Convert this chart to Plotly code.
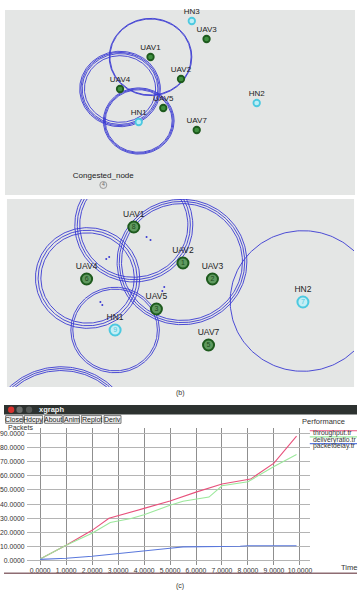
import numpy as np
import plotly.graph_objects as go

W, H = 359, 597
FONT = "Liberation Sans, Arial, sans-serif"

# ---------------- data: panel (a) ----------------
a_names = ["HN3", "UAV3", "UAV1", "UAV2", "UAV4", "UAV5", "HN1", "UAV7", "HN2", "Congested_node"]
a_x = [191, 206, 149, 180, 118, 162, 137, 196, 257, 101]
a_y = [21, 39, 57, 79, 89, 108, 122, 130, 103, 185]
a_kind = ["hn", "uav", "uav", "uav", "uav", "uav", "hn", "uav", "hn", "cong"]
ring_a_x = [149, 118, 137]
ring_a_y = [57, 89, 121]
ring_a_r = [[42, 41.3], [41, 39.8, 38.5, 36.2], [36, 35, 34]]

# ---------------- data: panel (b) ----------------
b_names = ["UAV1", "UAV2", "UAV3", "UAV4", "UAV5", "HN1", "UAV7", "HN2"]
b_x = [132, 182, 212, 84, 155, 113, 208, 304]
b_y = [227, 263, 279, 279, 309, 330, 345, 302]
b_ids = ["8", "1", "2", "6", "3", "9", "5", "7"]
b_kind = ["uav", "uav", "uav", "uav", "uav", "hn", "uav", "hn"]
ring_b_x = [132, 85, 181, 113, 304, 58]
ring_b_y = [225, 278, 262, 330, 301, 438]
ring_b_r = [[60, 57.5, 55], [53, 50.3, 47.5], [66, 63.8, 61.5], [45, 43], [74], [75, 73, 71]]
pkt_x = [145, 149, 104, 107, 161, 163, 98, 100]
pkt_y = [237, 240, 259, 257, 291, 287, 302, 305]

# ---------------- data: panel (c) xgraph ----------------
t_tp = [0, 1, 2, 2.65, 4, 5, 6, 7, 8.1, 9, 9.87]
throughput = [1.2, 11, 21.5, 30, 37, 42.2, 48.5, 54.2, 57.7, 69, 88]
t_dr = [0, 1, 2, 2.7, 3.5, 4, 5, 5.5, 6.5, 7, 8, 9, 9.87]
deliveryratio = [1.2, 11, 19.5, 27, 29.8, 32.5, 39.2, 42, 45, 53, 55.8, 66.6, 75]
t_pd = [0, 1, 2, 3, 4, 5, 5.5, 6, 7, 7.7, 8, 9, 9.87]
packetdelay = [1.0, 1.8, 3.2, 5.0, 6.5, 8.8, 9.8, 9.8, 9.8, 10.2, 10.6, 10.6, 10.6]
series_names = ["throughput.tr", "deliveryratio.tr", "packetdelay.tr"]
series_colors = ["#e8527c", "#9be89b", "#5a78dc"]
x_ticks = list(range(0, 11))
x_ticktext = ["0.0000", "1.0000", "2.0000", "3.0000", "4.0000", "5.0000",
              "6.0000", "7.0000", "8.0000", "9.0000", "10.0000"]
y_ticks = list(range(0, 100, 10))
y_ticktext = ["%.4f" % v for v in y_ticks]
buttons = ["Close", "Hdcpy", "About", "Anim", "Replot", "Deriv"]
button_x0 = [1.7, 20.7, 41.3, 60.7, 78.7, 101.7]
button_x1 = [19.3, 39.3, 59.3, 76.7, 99.3, 119.0]


def px(x):
    return x / W


def py(y):
    return 1 - y / H


fig = go.Figure()

# ---------- plot (c) ----------
for t, v, name, col in zip([t_tp, t_dr, t_pd], [throughput, deliveryratio, packetdelay],
                           series_names, series_colors):
    fig.add_trace(go.Scatter(x=t, y=v, mode="lines", name=name,
                             line=dict(color=col, width=1.1), xaxis="x", yaxis="y",
                             showlegend=False, hoverinfo="skip"))

BLUE = "#3a3ad2"


def ring_traces(cxs, cys, rs, ratio, xa, ya, width):
    for cx, cy, rl in zip(cxs, cys, rs):
        for r in rl:
            th = np.linspace(0, 2 * np.pi, 241)
            fig.add_trace(go.Scatter(x=cx + r * np.cos(th), y=cy + r * ratio * np.sin(th),
                                     mode="lines", line=dict(color=BLUE, width=width),
                                     xaxis=xa, yaxis=ya, showlegend=False, hoverinfo="skip"))


ring_traces(ring_a_x, ring_a_y, ring_a_r, 0.92, "x2", "y2", 0.9)
ring_traces(ring_b_x, ring_b_y, ring_b_r, 0.95, "x3", "y3", 0.9)

# packets
fig.add_trace(go.Scatter(x=pkt_x, y=pkt_y, mode="markers",
                         marker=dict(color=BLUE, size=2), xaxis="x3", yaxis="y3",
                         showlegend=False, hoverinfo="skip"))


def node_style(kind, big):
    if kind == "uav":
        return dict(color="#5f9a5f" if big else "#3f8f3f", line=dict(color="#1d5a1d", width=2 if big else 1.8))
    if kind == "hn":
        return dict(color="#c4eef5" if big else "#bdeef6", line=dict(color="#4cc9e0", width=2 if big else 1.8))
    return dict(color="#e2e2e2", line=dict(color="#9a9a9a", width=1))


# panel (a) nodes
for kind in ["uav", "hn", "cong"]:
    idx = [i for i, k in enumerate(a_kind) if k == kind]
    st = node_style(kind, False)
    fig.add_trace(go.Scatter(
        x=[a_x[i] for i in idx], y=[a_y[i] for i in idx], mode="markers+text",
        text=[a_names[i] for i in idx], textposition="top center",
        textfont=dict(family=FONT, size=8, color="#222"),
        marker=dict(size=6.5 if kind != "cong" else 7, color=st["color"], line=st["line"]),
        xaxis="x2", yaxis="y2", showlegend=False, hoverinfo="skip", cliponaxis=False))
fig.add_trace(go.Scatter(x=[a_x[-1]], y=[a_y[-1]], mode="text", text=["4"],
                         textfont=dict(family=FONT, size=5, color="#666"),
                         xaxis="x2", yaxis="y2", showlegend=False, hoverinfo="skip"))

# panel (b) nodes
for kind in ["uav", "hn"]:
    idx = [i for i, k in enumerate(b_kind) if k == kind]
    st = node_style(kind, True)
    fig.add_trace(go.Scatter(
        x=[b_x[i] for i in idx], y=[b_y[i] for i in idx], mode="markers+text",
        text=[b_names[i] for i in idx], textposition="top center",
        textfont=dict(family=FONT, size=8.5, color="#222"),
        marker=dict(size=11, color=st["color"], line=st["line"]),
        xaxis="x3", yaxis="y3", showlegend=False, hoverinfo="skip", cliponaxis=False))
    fig.add_trace(go.Scatter(
        x=[b_x[i] for i in idx], y=[b_y[i] for i in idx], mode="text",
        text=[b_ids[i] for i in idx],
        textfont=dict(family=FONT, size=7, color="#1d4a1d" if kind == "uav" else "#4cc9e0"),
        xaxis="x3", yaxis="y3", showlegend=False, hoverinfo="skip"))

shapes = []
annotations = []

# panel backgrounds
for xr, yr in [("x2 domain", "y2 domain"), ("x3 domain", "y3 domain")]:
    shapes.append(dict(type="rect", xref=xr, yref=yr, x0=0, x1=1, y0=0, y1=1,
                       fillcolor="#e4e6e5", line=dict(width=0), layer="below"))

# xgraph window chrome
shapes.append(dict(type="rect", xref="paper", yref="paper", x0=0, x1=1, y0=py(414.5), y1=py(405),
                   fillcolor="#2d3230", line=dict(width=0)))
for cxp, col in [(7.3, "#d8322e"), (15.8, "#6c6f6d"), (25.5, "#555957")]:
    shapes.append(dict(type="circle", xref="paper", yref="paper", x0=px(cxp - 3.2), x1=px(cxp + 3.2),
                       y0=py(413), y1=py(406.6), fillcolor=col, line=dict(width=0)))
annotations.append(dict(text="<b>xgraph</b>", x=px(48.5), y=py(409.8), xref="paper", yref="paper",
                        showarrow=False, font=dict(family=FONT, size=7.5, color="#f2f2f2"),
                        xanchor="center", yanchor="middle"))
for lbl, x0, x1 in zip(buttons, button_x0, button_x1):
    shapes.append(dict(type="rect", xref="paper", yref="paper", x0=px(x0), x1=px(x1),
                       y0=py(423.3), y1=py(415.6), fillcolor="#f4f4f4",
                       line=dict(color="#555", width=0.8)))
    annotations.append(dict(text=lbl, x=px((x0 + x1) / 2), y=py(419.6), xref="paper", yref="paper",
                            showarrow=False, font=dict(family=FONT, size=7, color="#222"),
                            xanchor="center", yanchor="middle"))

# legend (xgraph style)
leg_line_y = [430.7, 436.9, 443.6]
leg_text_y = [433.2, 439.5, 446.0]
for name, col, ly, ty in zip(series_names, series_colors, leg_line_y, leg_text_y):
    shapes.append(dict(type="line", xref="paper", yref="paper", x0=px(311), x1=px(359),
                       y0=py(ly), y1=py(ly), line=dict(color=col, width=1.1)))
    annotations.append(dict(text=name, x=px(312), y=py(ty), xref="paper", yref="paper",
                            showarrow=False, font=dict(family=FONT, size=6.8, color="#333"),
                            xanchor="left", yanchor="middle"))

annotations += [
    dict(text="Performance", x=px(325), y=py(421), xref="paper", yref="paper", showarrow=False,
         font=dict(family=FONT, size=7.5, color="#333"), xanchor="center", yanchor="middle"),
    dict(text="Packets", x=px(2), y=py(427), xref="paper", yref="paper", showarrow=False,
         font=dict(family=FONT, size=7, color="#333"), xanchor="left", yanchor="middle"),
    dict(text="Time", x=px(351), y=py(567), xref="paper", yref="paper", showarrow=False,
         font=dict(family=FONT, size=7.5, color="#333"), xanchor="center", yanchor="middle"),
    dict(text="(b)", x=px(179), y=py(393), xref="paper", yref="paper", showarrow=False,
         font=dict(family=FONT, size=7, color="#333"), xanchor="center", yanchor="middle"),
    dict(text="(c)", x=px(179), y=py(586), xref="paper", yref="paper", showarrow=False,
         font=dict(family=FONT, size=7, color="#333"), xanchor="center", yanchor="middle"),
]
shapes.append(dict(type="line", xref="paper", yref="paper", x0=0, x1=1, y0=py(573.3), y1=py(573.3),
                   line=dict(color="#8e6c72", width=1.5)))

fig.update_layout(
    width=W, height=H, margin=dict(l=0, r=0, t=0, b=0),
    paper_bgcolor="white", plot_bgcolor="white",
    shapes=shapes, annotations=annotations, showlegend=False,
    xaxis=dict(domain=[px(23), px(311)], range=[-0.52, 10.38], tickvals=x_ticks, ticktext=x_ticktext,
               showgrid=True, gridcolor="#8f8f8f", gridwidth=1, zeroline=False, showline=False,
               ticks="", ticklabelstandoff=0,
               tickfont=dict(family=FONT, size=6.8, color="#333"), anchor="y", fixedrange=True),
    yaxis=dict(domain=[py(565), py(428)], range=[-3, 93.8], tickvals=y_ticks, ticktext=y_ticktext,
               showgrid=True, gridcolor="#b4b4b4", gridwidth=1, zeroline=False, showline=False,
               ticks="", ticklabelstandoff=1,
               tickfont=dict(family=FONT, size=6.8, color="#333"), anchor="x", fixedrange=True),
    xaxis2=dict(domain=[px(1), px(357)], range=[1, 357], visible=False, anchor="y2"),
    yaxis2=dict(domain=[py(195), py(10)], range=[195, 10], visible=False, anchor="x2"),
    xaxis3=dict(domain=[px(3), px(356)], range=[3, 356], visible=False, anchor="y3"),
    yaxis3=dict(domain=[py(387), py(199)], range=[387, 199], visible=False, anchor="x3"),
)

fig.write_html("out.html")
